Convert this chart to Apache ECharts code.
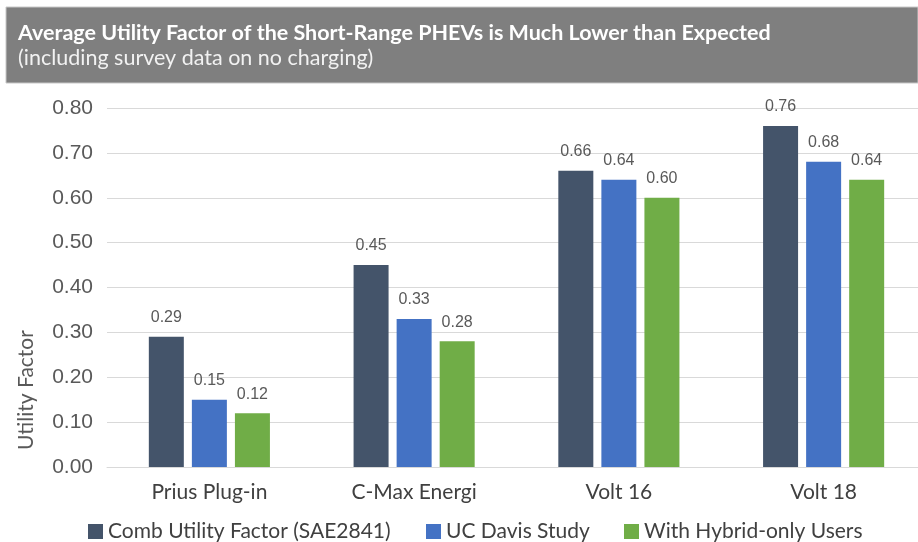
<!DOCTYPE html>
<html>
<head>
<meta charset="utf-8">
<title>Average Utility Factor of the Short-Range PHEVs</title>
<script src="https://cdn.jsdelivr.net/npm/echarts@6/dist/echarts.min.js"></script>
<style>
  html, body { margin: 0; padding: 0; background: #fff; }
  #chart { width: 918px; height: 542px; }
</style>
</head>
<body>
<div id="chart"></div>
<script>
// data
const categories = ['Prius Plug-in', 'C-Max Energi', 'Volt 16', 'Volt 18'];
const seriesNames = ['Comb Utility Factor (SAE2841)', 'UC Davis Study', 'With Hybrid-only Users'];
const combUF = [0.29, 0.45, 0.66, 0.76];
const ucDavis = [0.15, 0.33, 0.64, 0.68];
const hybridOnly = [0.12, 0.28, 0.60, 0.64];
const yTicks = { min: 0, max: 0.8, step: 0.1 };

const colors = ['#44546a', '#4472c4', '#70ad47'];
const textFont = 'Lato, "Open Sans", sans-serif';
const numFont = '"Liberation Sans", Arial, sans-serif';

const chart = echarts.init(document.getElementById('chart'));

function barSeries(name, values, color) {
  return {
    name: name,
    type: 'bar',
    data: values,
    barWidth: 35,
    barGap: '23%',
    itemStyle: { color: color },
    label: {
      show: true,
      position: 'top',
      distance: 11,
      fontFamily: numFont,
      fontSize: 16,
      color: '#595959',
      formatter: (p) => p.value.toFixed(2),
    },
  };
}

// one legend box per series so each sits where the reference has it
const legendLeft = [88, 426, 624];
const legends = seriesNames.map((name, i) => ({
  data: [name],
  left: legendLeft[i],
  top: 521,
  icon: 'rect',
  itemWidth: 15,
  itemHeight: 15,
  padding: 0,
  selectedMode: false,
  textStyle: {
    fontFamily: textFont,
    fontSize: 21,
    color: '#404040',
  },
}));

const option = {
  animation: false,
  backgroundColor: '#fff',
  title: {
    text: 'Average Utility Factor of the Short-Range PHEVs is Much Lower than Expected',
    subtext: '(including survey data on no charging)',
    left: 18,
    top: 21,
    itemGap: 1,
    padding: 0,
    textStyle: {
      fontFamily: textFont,
      fontSize: 21.5,
      fontWeight: 'bold',
      color: '#fff',
      lineHeight: 24,
    },
    subtextStyle: {
      fontFamily: textFont,
      fontSize: 21.5,
      color: '#f2f2f2',
      lineHeight: 24,
    },
  },
  graphic: [
    {
      type: 'rect',
      z: -1,
      shape: { x: 6, y: 7, width: 912, height: 76 },
      style: { fill: '#7f7f7f', stroke: '#c8c8c8', lineWidth: 1 },
    },
    {
      type: 'text',
      x: 26,
      y: 390,
      rotation: Math.PI / 2,
      style: {
        text: 'Utility Factor',
        font: '21px ' + textFont,
        fill: '#595959',
        align: 'center',
        verticalAlign: 'middle',
      },
    },
  ],
  legend: legends,
  grid: {
    left: 107,
    right: -8,
    top: 108,
    bottom: 75,
    outerBoundsMode: 'none',
  },
  xAxis: {
    type: 'category',
    data: categories,
    axisTick: { show: false },
    axisLine: { show: true, lineStyle: { color: '#d9d9d9', width: 1 } },
    axisLabel: {
      margin: 15,
      fontFamily: textFont,
      fontSize: 21,
      color: '#404040',
    },
  },
  yAxis: {
    type: 'value',
    min: yTicks.min,
    max: yTicks.max,
    interval: yTicks.step,
    axisLine: { show: false },
    axisTick: { show: false },
    axisLabel: {
      margin: 14,
      fontFamily: numFont,
      fontSize: 21,
      color: '#595959',
      formatter: (v) => v.toFixed(2),
    },
    splitLine: { show: true, lineStyle: { color: '#d9d9d9', width: 1 } },
  },
  series: [
    barSeries(seriesNames[0], combUF, colors[0]),
    barSeries(seriesNames[1], ucDavis, colors[1]),
    barSeries(seriesNames[2], hybridOnly, colors[2]),
  ],
};

chart.setOption(option);
</script>
</body>
</html>
